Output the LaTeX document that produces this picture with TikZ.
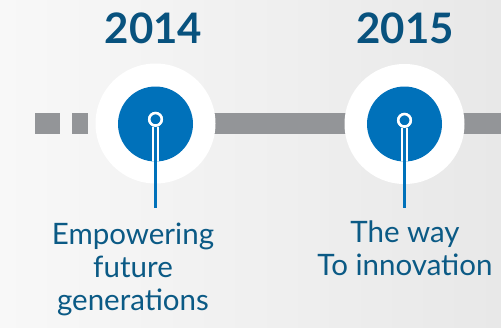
\documentclass[tikz,border=0pt]{standalone}
\usepackage{fontspec}
\setmainfont{Lato}
\definecolor{bgL}{HTML}{F8F8F8}
\definecolor{bgR}{HTML}{E8E8E8}
\definecolor{barGray}{HTML}{939598}
\definecolor{dotBlue}{HTML}{0071BA}
\definecolor{textBlue}{HTML}{0B5A85}
\definecolor{yearBlue}{HTML}{08527E}
\begin{document}
\begin{tikzpicture}[x=1pt,y=-1pt,
  halo/.style={circle,fill=white,minimum size=120pt,inner sep=0pt},
  dot/.style={circle,fill=dotBlue,minimum size=75pt,inner sep=0pt},
  ring/.style={circle,fill=dotBlue,draw=white,line width=2.5pt,minimum size=12.5pt,inner sep=0pt},
  year/.style={font=\fontsize{42}{50}\selectfont\bfseries,text=yearBlue,inner sep=0pt},
  caption/.style={font=\fontsize{29.5}{33}\selectfont,text=textBlue,align=center,inner sep=0pt,anchor=north},
  barpart/.style={fill=barGray},
  stemOut/.style={white,line width=6.5pt},
  stemIn/.style={dotBlue,line width=2.5pt}]
\useasboundingbox (0,0) rectangle (501,327);
\shade[left color=bgL,right color=bgR] (0,0) rectangle (501,327);
% bar
\fill[barpart] (35,113) rectangle (60,134);
\fill[barpart] (72,113) rectangle (88,134);
\fill[barpart] (110,113) rectangle (501,134);
% milestones
\node[halo] (h1) at (155.5,123.5) {};
\node[halo] (h2) at (404.5,124) {};
\node[dot] (d1) at (155.5,124) {};
\node[dot] (d2) at (404.5,124) {};
\coordinate (e1) at (155.5,208);
\coordinate (e2) at (404.5,208);
\node[ring] (r1) at (155.5,119.3) {};
\node[ring] (r2) at (404.5,120.3) {};
\begin{scope}
  \clip (d1.center) circle (37.5pt);
  \draw[stemOut] (r1.south) -- (e1);
\end{scope}
\begin{scope}
  \clip (d2.center) circle (37.5pt);
  \draw[stemOut] (r2.south) -- (e2);
\end{scope}
\draw[stemIn] (r1.south) -- (e1);
\draw[stemIn] (r2.south) -- (e2);
\node[ring] at (r1) {};
\node[ring] at (r2) {};
% years
\node[year,anchor=base] (y1) at (153.5,43) {2014};
\node[year,anchor=base] (y2) at (405,43) {2015};
% captions
\node[caption] (c1) at (133,223) {Empowering\\future\\generations};
\node[caption] (c2) at (405,221) {The way\\To innovation};
\end{tikzpicture}
\end{document}
